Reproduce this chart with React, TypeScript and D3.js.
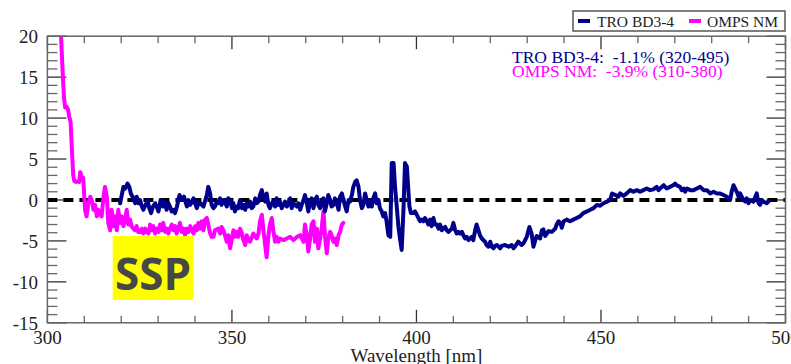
import React from 'react';
import * as d3 from 'd3';

const W = 791;
const H = 364;

const xMajorTicks = [300, 350, 400, 450, 500];
const yMajorTicks = [20, 15, 10, 5, 0, -5, -10, -15];
const legendLabels = ['TRO BD3-4', 'OMPS NM'];
const annotationLines = ['TRO BD3-4:  -1.1% (320-495)', 'OMPS NM:  -3.9% (310-380)'];
const xTitle = 'Wavelength [nm]';
const badgeText = 'SSP';

// TRO BD3-4 relative difference [%] vs wavelength [nm]
const troBD34: [number, number][] = [
  [319.7,-0.4],[320.6,1.6],[321.1,1.4],[321.7,2.0],[322.2,1.6],[322.6,0.8],[323.1,0.4],[323.8,-0.4],[324.2,0.4],[324.7,-0.4],
  [325.1,0.0],[325.6,-0.8],[326.0,-1.2],[326.8,-0.4],[327.1,0.0],[327.6,-1.0],[328.1,-1.6],[328.6,-0.8],[329.2,-0.4],[329.6,-0.8],
  [330.1,-1.4],[330.7,0.0],[331.3,-0.8],[331.7,-0.2],[332.3,-1.2],[332.8,-0.4],[333.2,-0.8],[333.7,-1.4],[334.2,-1.2],[334.6,-1.6],
  [335.1,-0.8],[335.8,0.6],[336.4,0.0],[337.0,0.4],[337.8,-0.8],[338.2,0.0],[338.7,-0.6],[339.2,-0.2],[339.6,0.2],[340.0,-0.4],
  [340.5,-1.0],[341.0,-0.3],[341.4,-0.4],[342.3,-0.8],[342.8,0.0],[343.2,0.6],[343.6,1.6],[344.1,0.8],[344.5,-0.6],[345.0,-1.0],
  [345.4,-0.8],[345.9,-0.2],[346.3,-0.4],[346.8,0.2],[347.2,-0.6],[347.7,0.0],[348.2,-0.4],[348.6,-0.8],[349.0,0.2],[349.5,0.0],
  [350.0,-1.0],[350.4,-0.4],[350.8,-1.4],[351.3,-0.8],[351.7,-1.0],[352.2,0.0],[352.7,-1.0],[353.1,-0.6],[353.6,-1.2],[354.0,-0.4],
  [354.5,-0.8],[354.9,-0.2],[355.4,-1.0],[355.8,-0.8],[356.3,0.2],[356.7,-0.4],[357.2,-0.2],[357.6,0.6],[358.1,1.2],[358.5,0.2],
  [359.0,-0.2],[359.4,0.8],[359.9,-0.6],[360.3,-1.0],[360.8,-0.4],[361.2,-0.2],[361.7,-0.8],[362.1,0.2],[362.6,-0.6],[363.0,-0.2],
  [363.5,-1.0],[364.0,-0.6],[364.4,-0.2],[364.9,-0.8],[365.3,-0.4],[365.8,0.2],[366.2,-1.0],[366.7,-0.4],[367.1,-0.6],[367.6,-0.8],
  [368.0,-0.4],[368.5,-1.2],[368.9,-0.6],[369.4,0.0],[369.8,0.6],[370.3,-0.4],[370.7,-1.4],[371.2,-0.2],[371.6,0.2],[372.1,-1.0],
  [372.5,0.0],[373.0,0.4],[373.4,-0.6],[373.9,-1.0],[374.3,-0.2],[374.8,0.2],[375.2,-1.4],[375.7,-0.4],[376.1,0.6],[376.6,0.0],
  [377.0,-0.8],[377.5,-0.6],[377.9,0.2],[378.4,-0.4],[378.9,-1.2],[379.3,0.4],[379.8,0.8],[380.2,0.0],[380.7,-0.8],[381.1,-1.4],
  [381.6,0.0],[382.0,-0.2],[382.5,0.6],[382.9,1.6],[383.4,2.2],[383.8,2.4],[384.3,1.6],[384.7,0.0],[385.2,-1.0],[385.6,-0.6],
  [386.1,0.8],[386.5,0.0],[387.0,-0.8],[387.4,0.0],[387.9,-0.8],[388.3,0.2],[388.8,0.8],[389.2,-0.4],[389.7,0.0],[390.1,-1.0],
  [390.6,-1.4],[391.0,-2.0],[391.5,-1.6],[391.9,-2.6],[392.4,-4.3],[392.9,-4.5],[393.3,4.5],[393.8,4.5],[394.2,1.6],[394.7,-1.0],
  [395.1,-3.2],[395.6,-4.9],[396.0,-6.1],[396.5,-1.0],[396.9,4.5],[397.4,4.1],[397.8,1.2],[398.1,-0.8],[398.5,-1.6],[399.2,-1.6],
  [399.6,-1.4],[400.1,-1.8],[400.5,-2.2],[401.0,-2.6],[401.4,-2.4],[401.9,-2.6],[402.3,-2.2],[402.8,-2.6],[403.2,-3.0],[403.7,-2.4],
  [404.1,-3.2],[404.6,-2.2],[405.0,-3.0],[405.5,-3.0],[406.0,-3.5],[406.4,-3.0],[406.9,-3.7],[407.3,-3.5],[407.8,-3.3],[408.2,-3.7],
  [408.7,-3.9],[409.1,-3.7],[409.6,-3.5],[410.0,-2.8],[410.5,-3.7],[410.9,-4.1],[411.4,-3.9],[411.8,-4.1],[412.3,-3.9],[412.7,-4.3],
  [413.2,-4.7],[413.6,-4.5],[414.1,-4.9],[414.5,-4.7],[415.0,-4.5],[415.4,-4.9],[415.9,-3.7],[416.3,-3.0],[416.8,-3.7],[417.2,-4.3],
  [417.7,-4.7],[418.1,-4.9],[418.6,-5.1],[419.0,-5.5],[419.5,-5.7],[420.0,-5.1],[420.4,-5.7],[420.9,-5.9],[421.3,-5.6],[421.8,-5.5],
  [422.7,-5.9],[423.1,-5.6],[424.0,-5.5],[424.5,-5.6],[425.0,-5.7],[425.8,-5.5],[426.3,-5.9],[426.7,-5.7],[427.6,-5.1],[428.5,-5.5],
  [429.0,-5.3],[429.9,-4.5],[430.6,-3.3],[431.2,-4.1],[431.7,-5.7],[432.2,-4.9],[432.6,-4.4],[433.5,-4.7],[434.0,-3.7],[434.4,-3.6],
  [434.9,-4.4],[435.8,-3.8],[436.7,-3.9],[437.6,-3.5],[438.0,-3.0],[438.5,-2.6],[439.0,-2.8],[439.4,-3.4],[439.9,-2.6],[440.7,-2.4],
  [441.6,-2.6],[442.5,-2.4],[443.4,-2.2],[444.3,-2.0],[445.2,-1.6],[446.2,-1.4],[447.1,-1.2],[448.0,-1.0],[448.9,-0.6],[449.8,-0.7],
  [450.7,-0.4],[451.6,-0.2],[452.5,0.0],[453.0,0.8],[453.9,0.6],[454.7,0.4],[455.2,0.8],[456.1,0.5],[457.0,0.8],[457.9,1.2],
  [458.8,1.0],[459.7,1.2],[460.6,1.0],[461.5,1.2],[462.4,1.4],[463.3,1.2],[464.2,1.3],[465.1,1.6],[465.6,1.2],[466.0,1.4],
  [467.0,1.8],[467.8,1.4],[468.7,1.6],[469.6,1.8],[470.1,2.0],[470.5,1.8],[471.4,1.6],[471.9,1.2],[472.4,1.4],[472.8,1.0],
  [473.3,1.4],[474.2,1.2],[475.1,1.2],[476.0,1.4],[476.9,1.6],[477.8,1.2],[478.7,1.2],[479.6,0.8],[480.5,1.0],[481.4,0.8],
  [482.3,0.8],[483.2,0.6],[484.1,0.4],[485.0,0.0],[485.4,1.0],[485.9,1.8],[486.8,1.0],[487.3,0.4],[487.7,0.8],[488.6,0.0],
  [489.1,-0.2],[489.5,0.2],[490.0,-0.4],[490.4,0.0],[491.3,-0.2],[492.2,0.8],[492.7,-0.4],[493.1,-0.6],[493.6,0.0],[494.0,-0.2],
  [494.9,-0.4],[495.4,-0.2],
];

// OMPS NM relative difference [%] vs wavelength [nm]
const ompsNM: [number, number][] = [
  [303.6,21.0],[303.9,18.0],[304.2,15.0],[304.5,12.5],[304.8,11.3],[305.2,11.4],[305.6,11.0],[305.9,10.2],[306.3,9.5],[306.6,6.5],
  [307.0,3.0],[307.3,2.3],[307.8,2.2],[308.3,2.3],[308.6,2.2],[308.9,3.4],[309.3,2.8],[309.7,2.7],[310.2,-1.2],[310.6,-2.0],
  [311.1,-0.4],[311.6,0.4],[312.0,0.0],[312.5,-1.2],[312.9,-0.6],[313.4,-2.0],[313.8,-1.2],[314.3,-1.8],[314.7,-2.0],[315.2,0.4],
  [315.6,1.6],[316.1,0.4],[316.5,-2.8],[317.0,-3.7],[317.4,-1.2],[317.9,-3.2],[318.3,-2.0],[318.8,-3.7],[319.2,-1.2],[319.7,-2.8],
  [320.1,-2.0],[320.6,-3.2],[321.0,-2.4],[321.5,-1.2],[321.9,-3.0],[322.4,-2.4],[322.8,-3.2],[323.3,-3.5],[323.7,-3.7],[324.2,-3.2],
  [324.6,-3.9],[325.1,-3.9],[325.6,-3.5],[326.0,-4.1],[326.5,-3.5],[326.9,-3.9],[327.4,-4.1],[327.8,-3.0],[328.3,-3.7],[328.7,-3.2],
  [329.2,-4.1],[329.6,-3.5],[330.1,-3.9],[330.5,-3.0],[331.0,-3.7],[331.4,-2.8],[331.9,-3.9],[332.3,-3.5],[332.8,-4.1],[333.2,-3.5],
  [333.7,-3.0],[334.1,-3.7],[334.6,-3.2],[335.0,-4.1],[335.5,-3.5],[335.9,-2.8],[336.4,-3.9],[336.8,-3.5],[337.3,-4.3],[337.7,-3.5],
  [338.2,-3.9],[338.7,-3.2],[339.1,-3.7],[339.6,-4.1],[340.0,-3.2],[340.5,-3.7],[340.9,-2.8],[341.4,-3.5],[341.8,-2.6],[342.3,-3.7],
  [342.7,-2.4],[343.2,-2.2],[343.6,-3.0],[344.1,-4.1],[344.5,-4.5],[345.0,-4.5],[345.4,-3.7],[346.3,-3.5],[346.8,-4.1],[347.2,-3.3],
  [347.7,-3.7],[348.6,-5.1],[349.0,-4.3],[349.5,-5.9],[350.0,-4.7],[350.4,-3.7],[350.8,-4.5],[351.3,-3.9],[351.7,-4.5],[352.2,-3.5],
  [352.7,-4.1],[353.1,-4.9],[353.6,-5.5],[354.0,-4.3],[354.5,-4.9],[354.9,-5.1],[355.8,-4.1],[356.7,-4.7],[357.2,-4.1],[357.6,-2.6],
  [358.1,-1.8],[358.5,-3.5],[359.0,-5.5],[359.4,-7.0],[359.9,-4.3],[360.3,-3.0],[360.8,-2.2],[361.2,-3.7],[361.7,-5.1],[362.1,-4.5],
  [362.6,-5.1],[363.0,-4.7],[364.0,-4.9],[364.9,-4.7],[365.8,-4.5],[366.7,-4.9],[367.6,-4.5],[368.5,-4.3],[369.4,-5.1],[369.8,-3.0],
  [370.3,-4.3],[370.7,-6.3],[371.2,-4.7],[371.6,-3.0],[372.1,-2.6],[372.5,-5.1],[373.0,-3.5],[373.4,-5.9],[373.9,-4.7],[374.3,-3.5],
  [374.8,-1.4],[375.2,-4.3],[375.7,-6.5],[376.1,-4.7],[376.6,-3.9],[377.0,-4.3],[377.5,-5.1],[377.9,-4.7],[378.4,-5.5],[378.9,-4.3],
  [379.3,-3.9],[379.8,-3.0],[380.2,-2.8],
];

const NAVY = '#00008B';
const MAGENTA = '#FF00FF';
const FRAME = '#666666';
const SERIF = '"Liberation Serif", "DejaVu Serif", serif';

export default function App() {
  const left = 47.4, right = 785.5, top = 36.2, bottom = 322.8;
  const x = d3.scaleLinear().domain([300, 500]).range([left, right]);
  const y = d3.scaleLinear().domain([-15, 20]).range([bottom, top]);
  const line = d3
    .line<[number, number]>()
    .x((d) => x(d[0]))
    .y((d) => y(d[1]));

  const xMinor = d3.range(300, 501, 10).filter((v) => !xMajorTicks.includes(v));
  const yMinor = d3.range(-15, 21, 1).filter((v) => !yMajorTicks.includes(v));

  const yMajLen = 19, yMinLen = 10, xMajLen = 13, xMinLen = 7;

  return (
    <div style={{ position: 'fixed', left: 0, top: 0 }}>
      <svg width={W} height={H} style={{ display: 'block', background: '#fff' }}>
        <defs>
          <clipPath id="plotClip">
            <rect x={left} y={top} width={right - left} height={bottom - top} />
          </clipPath>
        </defs>

        {/* ticks */}
        <g stroke={FRAME} strokeWidth={1.3}>
          {yMajorTicks.map((v) => (
            <g key={'ym' + v}>
              <line x1={left} x2={left + yMajLen} y1={y(v)} y2={y(v)} stroke="#333" />
              <line x1={right} x2={right - yMajLen} y1={y(v)} y2={y(v)} stroke="#333" />
            </g>
          ))}
          {yMinor.map((v) => (
            <g key={'yn' + v}>
              <line x1={left} x2={left + yMinLen} y1={y(v)} y2={y(v)} />
              <line x1={right} x2={right - yMinLen} y1={y(v)} y2={y(v)} />
            </g>
          ))}
          {xMajorTicks.map((v) => (
            <g key={'xm' + v}>
              <line x1={x(v)} x2={x(v)} y1={top} y2={top + xMajLen} stroke="#333" />
              <line x1={x(v)} x2={x(v)} y1={bottom} y2={bottom - xMajLen} stroke="#333" />
            </g>
          ))}
          {xMinor.map((v) => (
            <g key={'xn' + v}>
              <line x1={x(v)} x2={x(v)} y1={top} y2={top + xMinLen} />
              <line x1={x(v)} x2={x(v)} y1={bottom} y2={bottom - xMinLen} />
            </g>
          ))}
        </g>

        {/* zero line */}
        <line
          x1={left}
          x2={right}
          y1={y(0)}
          y2={y(0)}
          stroke="#000"
          strokeWidth={4}
          strokeDasharray="10 6"
        />

        {/* series */}
        <g clipPath="url(#plotClip)" fill="none" strokeLinejoin="round" strokeLinecap="round">
          <path d={line(ompsNM) || ''} stroke={MAGENTA} strokeWidth={4} />
          <path d={line(troBD34) || ''} stroke={NAVY} strokeWidth={4} />
        </g>

        {/* frame */}
        <rect
          x={left}
          y={top}
          width={right - left}
          height={bottom - top}
          fill="none"
          stroke={FRAME}
          strokeWidth={1.5}
        />

        {/* tick labels */}
        <g fontFamily={SERIF} fontSize={19} fill="#222">
          {yMajorTicks.map((v) => (
            <text key={'yl' + v} x={38} y={y(v) + 7} textAnchor="end">
              {v}
            </text>
          ))}
          {xMajorTicks.map((v) => (
            <text key={'xl' + v} x={x(v)} y={343.5} textAnchor="middle">
              {v}
            </text>
          ))}
          <text x={(left + right) / 2} y={362} textAnchor="middle">
            {xTitle}
          </text>
        </g>

        {/* SSP badge */}
        <rect x={112.7} y={236} width={80.6} height={64} fill="#FFFF00" />
        <text
          x={153}
          y={290}
          textAnchor="middle"
          fontFamily='"Open Sans", "DejaVu Sans", sans-serif'
          fontWeight="bold"
          fontSize={44}
          fill="#474747"
        >
          {badgeText}
        </text>

        {/* annotations */}
        <g fontFamily={SERIF} fontSize={17.5}>
          <text x={512} y={63} fill={NAVY} xmlSpace="preserve" style={{ whiteSpace: 'pre' }}>
            {annotationLines[0]}
          </text>
          <text x={512} y={77} fill={MAGENTA} xmlSpace="preserve" style={{ whiteSpace: 'pre' }}>
            {annotationLines[1]}
          </text>
        </g>

        {/* legend */}
        <rect x={573} y={11} width={212} height={20} fill="#fff" stroke="#555" strokeWidth={1.5} />
        <line x1={578} x2={590} y1={21} y2={21} stroke={NAVY} strokeWidth={4} />
        <text x={597} y={26.5} fontFamily={SERIF} fontSize={15.5} fill="#222">
          {legendLabels[0]}
        </text>
        <line x1={689} x2={701} y1={21} y2={21} stroke={MAGENTA} strokeWidth={4} />
        <text x={707} y={26.5} fontFamily={SERIF} fontSize={15.5} fill="#222">
          {legendLabels[1]}
        </text>
      </svg>
    </div>
  );
}
